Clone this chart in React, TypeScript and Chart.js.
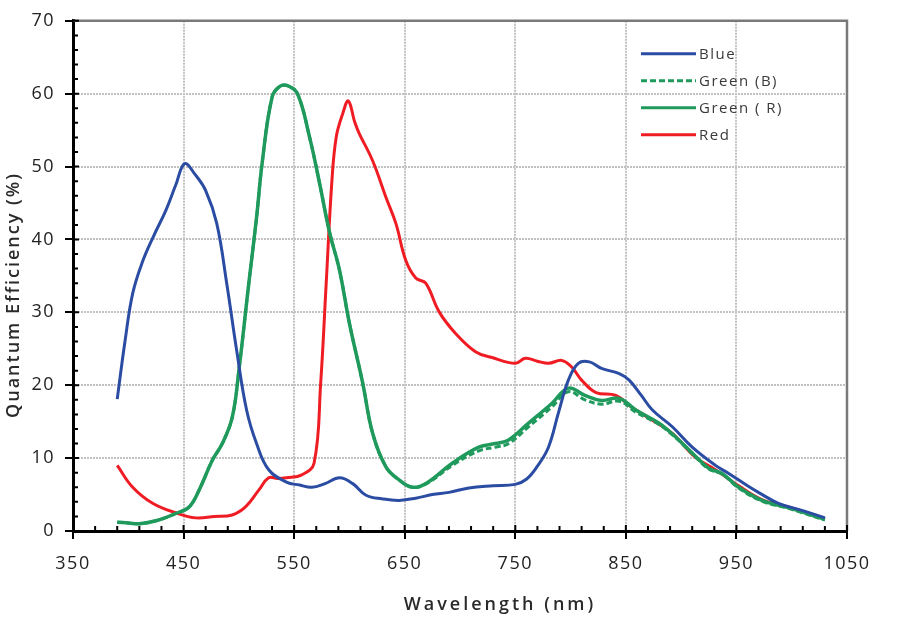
import { useEffect, useRef } from 'react';
import { Chart, registerables } from 'chart.js';

Chart.register(...registerables);

// wavelength (nm) / quantum efficiency (%)
const blueNm = [390, 397, 404, 413, 423, 434, 443, 451, 460, 470, 480, 489, 498, 507, 516, 527, 543, 555, 566, 578, 591, 603, 615, 630, 645, 660, 675, 690, 708, 730, 750, 760, 770, 780, 789, 798, 807, 817, 828, 844, 853, 864, 874, 892, 910, 931, 943, 960, 971, 988, 1010, 1030];
const blueQe = [18.1, 26.0, 32.6, 37.0, 40.5, 44.0, 47.5, 50.4, 49.0, 46.7, 42.2, 34.0, 24.8, 16.6, 12.0, 8.4, 6.7, 6.3, 6.0, 6.5, 7.3, 6.5, 4.9, 4.4, 4.2, 4.5, 5.0, 5.3, 5.9, 6.2, 6.4, 7.1, 8.9, 11.5, 16.2, 20.7, 23.0, 23.2, 22.3, 21.6, 20.7, 18.6, 16.6, 14.3, 11.5, 9.0, 7.9, 6.2, 5.2, 3.8, 2.8, 1.8];

const greenRNm = [390, 400, 410, 425, 443, 455, 464, 476, 485, 494, 500, 509, 516, 521, 530, 537, 544, 553, 564, 573, 582, 591, 600, 612, 621, 633, 645, 657, 670, 693, 717, 732, 744, 762, 783, 798, 813, 828, 844, 859, 880, 895, 910, 925, 937, 952, 973, 997, 1030];
const greenRQe = [1.2, 1.1, 1.0, 1.4, 2.4, 3.3, 5.6, 9.7, 12.0, 15.6, 22.0, 34.0, 43.0, 50.4, 59.5, 61.0, 61.1, 60.0, 54.0, 47.7, 41.0, 35.8, 28.5, 20.3, 13.4, 8.8, 7.0, 6.0, 6.6, 9.3, 11.5, 12.0, 12.5, 14.8, 17.5, 19.6, 18.6, 17.9, 18.2, 16.6, 14.8, 12.9, 10.7, 8.6, 7.9, 6.0, 4.2, 3.2, 1.6];

const greenBNm = greenRNm;
const greenBQe = [1.2, 1.1, 1.0, 1.4, 2.4, 3.3, 5.6, 9.7, 12.0, 15.6, 22.0, 34.0, 43.0, 50.4, 59.5, 61.0, 61.1, 60.0, 54.0, 47.7, 41.0, 35.8, 28.5, 20.3, 13.4, 8.8, 7.0, 6.0, 6.5, 9.0, 11.0, 11.5, 12.0, 14.3, 17.0, 19.1, 18.0, 17.4, 17.8, 16.3, 14.6, 12.8, 10.6, 8.5, 7.8, 5.9, 4.1, 3.1, 1.5];

const redNm = [390, 404, 422, 443, 461, 478, 494, 506, 518, 527, 535, 543, 557, 568, 574, 579, 584, 588, 594, 599, 605, 609, 621, 633, 642, 651, 660, 669, 681, 696, 714, 729, 750, 759, 770, 780, 792, 801, 810, 823, 841, 855, 874, 892, 913, 931, 952, 973, 997, 1030];
const redQe = [9.0, 6.0, 3.8, 2.5, 1.8, 2.0, 2.2, 3.3, 5.6, 7.3, 7.2, 7.3, 7.7, 9.3, 20.3, 34.0, 47.7, 54.0, 57.3, 59.0, 56.0, 54.5, 50.8, 45.8, 42.2, 37.1, 34.7, 34.0, 30.1, 27.1, 24.6, 23.8, 23.0, 23.7, 23.3, 23.0, 23.4, 22.5, 20.7, 19.0, 18.6, 17.0, 15.2, 13.4, 10.1, 8.4, 6.2, 4.3, 3.3, 1.7];

const seriesLabels = ['Blue', 'Green (B)', 'Green ( R)', 'Red'];
const xTicks = [350, 450, 550, 650, 750, 850, 950, 1050];
const yTicks = [0, 10, 20, 30, 40, 50, 60, 70];

const FONT = '"Open Sans", "DejaVu Sans", sans-serif';

const toPoints = (nm: number[], qe: number[]) => nm.map((x, i) => ({ x, y: qe[i] }));

const framePlugin = {
  id: 'frame',
  beforeDraw(chart: any) {
    chart.ctx.letterSpacing = '1.5px';
  },
  afterDatasetsDraw(chart: any) {
    const { ctx, chartArea: a, scales } = chart;
    const xs = scales.x;
    const ys = scales.y;
    ctx.save();

    // top / right frame
    ctx.strokeStyle = '#7a7a7a';
    ctx.lineWidth = 2.5;
    ctx.beginPath();
    ctx.moveTo(a.left, a.top);
    ctx.lineTo(a.right, a.top);
    ctx.lineTo(a.right, a.bottom);
    ctx.stroke();

    // minor ticks + inner half of major ticks
    ctx.strokeStyle = '#000';
    ctx.lineWidth = 2;
    ctx.beginPath();
    for (let v = 350; v <= 1050; v += 20) {
      const px = xs.getPixelForValue(v);
      ctx.moveTo(px, a.bottom);
      ctx.lineTo(px, a.bottom - 5);
    }
    for (const v of xTicks) {
      const px = xs.getPixelForValue(v);
      ctx.moveTo(px, a.bottom);
      ctx.lineTo(px, a.bottom - 6);
    }
    for (let v = 0; v <= 70; v += 2) {
      const py = ys.getPixelForValue(v);
      ctx.moveTo(a.left, py);
      ctx.lineTo(a.left + 5, py);
    }
    for (const v of yTicks) {
      const py = ys.getPixelForValue(v);
      ctx.moveTo(a.left, py);
      ctx.lineTo(a.left + 6, py);
    }
    ctx.stroke();

    // legend inside the plot, top right
    ctx.font = `15px ${FONT}`;
    ctx.letterSpacing = '1.5px';
    ctx.textBaseline = 'middle';
    ctx.textAlign = 'left';
    chart.data.datasets.forEach((ds: any, i: number) => {
      const y = a.top + 33 + i * 27;
      const x0 = a.right - 206;
      ctx.strokeStyle = ds.borderColor;
      ctx.lineWidth = 3;
      ctx.setLineDash(ds.borderDash || []);
      ctx.beginPath();
      ctx.moveTo(x0, y);
      ctx.lineTo(x0 + 55, y);
      ctx.stroke();
      ctx.setLineDash([]);
      ctx.fillStyle = '#3a3a3a';
      ctx.fillText(seriesLabels[i], x0 + 58, y + 1);
    });

    // axis titles
    ctx.fillStyle = '#2a2a2a';
    ctx.font = `600 18px ${FONT}`;
    ctx.letterSpacing = '3px';
    ctx.textAlign = 'center';
    ctx.fillText('Wavelength (nm)', 500, 605);
    ctx.translate(14, 295);
    ctx.rotate(-Math.PI / 2);
    ctx.letterSpacing = '2px';
    ctx.fillText('Quantum Efficiency (%)', 0, 0);
    ctx.restore();
  },
};

export default function App() {
  const canvasRef = useRef<HTMLCanvasElement | null>(null);

  useEffect(() => {
    if (!canvasRef.current) return;
    const line = { fill: false, pointRadius: 0, borderWidth: 3, tension: 0.4, borderJoinStyle: 'round' as const };
    const chart = new Chart(canvasRef.current, {
      type: 'line',
      data: {
        datasets: [
          { ...line, label: seriesLabels[0], data: toPoints(blueNm, blueQe), borderColor: '#2b4ca3' },
          { ...line, label: seriesLabels[1], data: toPoints(greenBNm, greenBQe), borderColor: '#1f9a5c', borderDash: [6, 3] },
          { ...line, label: seriesLabels[2], data: toPoints(greenRNm, greenRQe), borderColor: '#1f9a5c', borderWidth: 3.5 },
          { ...line, label: seriesLabels[3], data: toPoints(redNm, redQe), borderColor: '#f01c24' },
        ],
      },
      options: {
        responsive: false,
        animation: false,
        layout: { padding: { top: 20, right: 53, left: 0, bottom: 0 } },
        plugins: {
          legend: { display: false },
          tooltip: { enabled: false },
        },
        scales: {
          x: {
            type: 'linear',
            min: 350,
            max: 1050,
            afterFit: (s: any) => { s.height = 97; },
            afterBuildTicks: (s: any) => { s.ticks = xTicks.map((value) => ({ value })); },
            ticks: { color: '#222', font: { family: FONT, size: 18 }, padding: 14, maxRotation: 0, callback: (v: any) => String(v) },
            grid: { color: '#c2c2c2', lineWidth: 2, tickColor: '#000', tickLength: 8, tickWidth: 2 },
            border: { color: '#000', width: 3, dash: [2, 1] },
          },
          y: {
            min: 0,
            max: 70,
            afterFit: (s: any) => { s.width = 73; },
            afterBuildTicks: (s: any) => { s.ticks = yTicks.map((value) => ({ value })); },
            ticks: { color: '#222', font: { family: FONT, size: 18 }, padding: 10, callback: (v: any) => String(v) },
            grid: { color: '#c2c2c2', lineWidth: 2, tickColor: '#000', tickLength: 8, tickWidth: 2 },
            border: { color: '#000', width: 3, dash: [2, 1] },
          },
        },
      },
      plugins: [framePlugin],
    });
    return () => chart.destroy();
  }, []);

  return (
    <div style={{ position: 'absolute', left: 0, top: 0, width: 900, height: 628, background: '#fff' }}>
      <canvas ref={canvasRef} width={900} height={628} />
    </div>
  );
}
